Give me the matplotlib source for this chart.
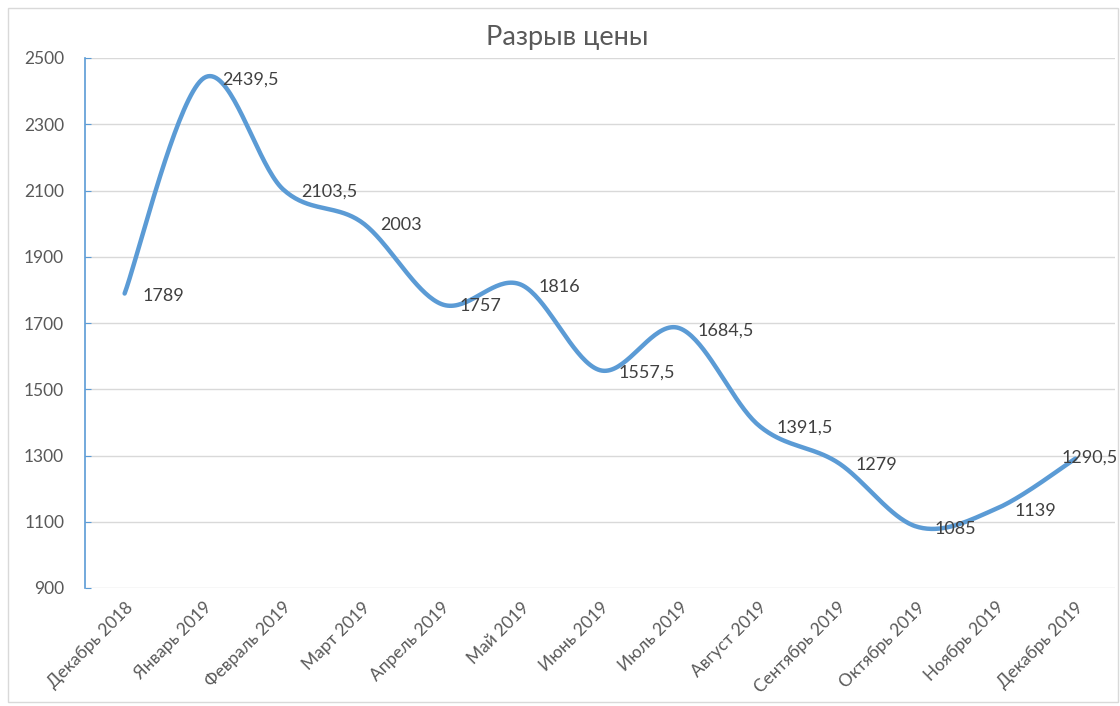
import matplotlib
matplotlib.use("Agg")
import matplotlib.pyplot as plt
import numpy as np
from matplotlib.patches import Rectangle

categories = ["Декабрь 2018", "Январь 2019", "Февраль 2019", "Март 2019", "Апрель 2019",
              "Май 2019", "Июнь 2019", "Июль 2019", "Август 2019", "Сентябрь 2019",
              "Октябрь 2019", "Ноябрь 2019", "Декабрь 2019"]
values = [1789, 2439.5, 2103.5, 2003, 1757, 1816, 1557.5, 1684.5, 1391.5, 1279, 1085, 1139, 1290.5]
labels = ["1789", "2439,5", "2103,5", "2003", "1757", "1816", "1557,5", "1684,5",
          "1391,5", "1279", "1085", "1139", "1290,5"]
yticks = [900, 1100, 1300, 1500, 1700, 1900, 2100, 2300, 2500]
title = "Разрыв цены"

plt.rcParams['font.family'] = ['Lato', 'DejaVu Sans']

W, H = 1120, 706
fig = plt.figure(figsize=(W / 100, H / 100), dpi=100)
fig.patches.append(Rectangle((8 / W, 1 - 702 / H), 1110 / W, 694 / H, transform=fig.transFigure,
                             fill=False, edgecolor="#d9d9d9", linewidth=1))
ax = fig.add_axes([85 / W, 1 - 588 / H, 1030 / W, 530 / H])

x = np.arange(len(values), dtype=float)
y = np.array(values, dtype=float)

# Excel-style smoothed curve (Bezier with Catmull-Rom tangents)
def smooth(xp, yp, n=40):
    P = np.column_stack([xp, yp])
    out = []
    for i in range(len(P) - 1):
        p0 = P[i - 1] if i > 0 else P[i]
        p1 = P[i]
        p2 = P[i + 1]
        p3 = P[i + 2] if i + 2 < len(P) else P[i + 1]
        c1 = p1 + (p2 - p0) / 6
        c2 = p2 - (p3 - p1) / 6
        t = np.linspace(0, 1, n)[:, None]
        seg = (1 - t) ** 3 * p1 + 3 * (1 - t) ** 2 * t * c1 + 3 * (1 - t) * t ** 2 * c2 + t ** 3 * p2
        out.append(seg if i == 0 else seg[1:])
    return np.vstack(out)

curve = smooth(x, y)
ax.plot(curve[:, 0], curve[:, 1], color="#5B9BD5", linewidth=3.2, solid_capstyle="round", zorder=3)

for i, (xi, yi, lab) in enumerate(zip(x, y, labels)):
    off = (13, -1.5) if i < len(values) - 1 else (-10, 1)
    ax.annotate(lab, (xi, yi), xytext=off, textcoords="offset points",
                ha="left", va="center", fontsize=13, color="#404040", zorder=4,
                annotation_clip=False)

ax.set_xlim(-0.5, len(values) - 0.5)
ax.set_ylim(900, 2500)
ax.set_yticks(yticks)
ax.set_xticks(x)
ax.set_xticklabels(categories, rotation=45, ha="right", rotation_mode="anchor")
ax.tick_params(axis="x", length=0, labelsize=12.5, labelcolor="#595959", pad=8)
ax.tick_params(axis="y", direction="in", length=4, color="#5B9BD5", labelsize=12.5,
               labelcolor="#595959", pad=15)
ax.grid(axis="y", color="#d9d9d9", linewidth=1)
ax.set_axisbelow(True)
for s in ["top", "right", "bottom"]:
    ax.spines[s].set_visible(False)
ax.spines["left"].set_color("#5B9BD5")
ax.spines["left"].set_linewidth(1.2)

fig.text((483 + 651) / 2 / W, 1 - 38 / H, title, ha="center", va="center", fontsize=19.5, color="#595959")

fig.savefig("out.png", dpi=100)
